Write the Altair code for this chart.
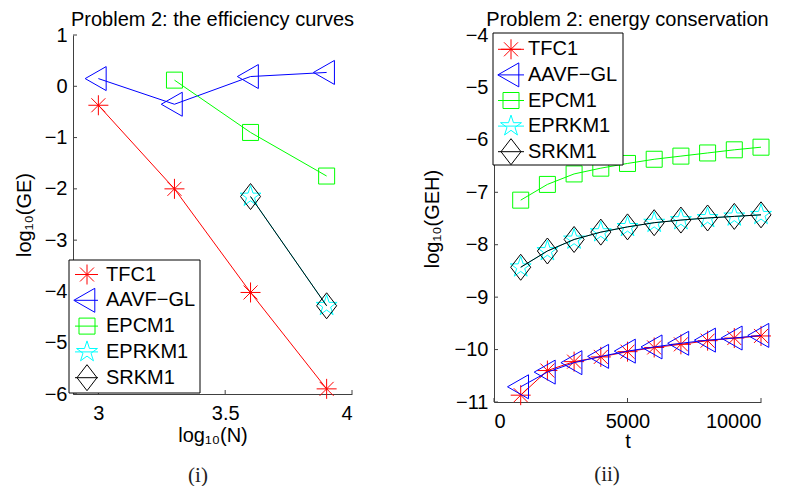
import altair as alt
import pandas as pd

# ---------------- data ----------------
names = ["TFC1", "AAVF-GL", "EPCM1", "EPRKM1", "SRKM1"]
legend_labels = ["TFC1", "AAVF\u2212GL", "EPCM1", "EPRKM1", "SRKM1"]
colors = ["#ff0000", "#0000ff", "#00ff00", "#00ffff", "#000000"]

# panel (i): efficiency curves
tfc1_x = [3.0, 3.3, 3.6, 3.9]
tfc1_ge = [-0.37, -2.0, -4.02, -5.9]
aavf_x = [3.0, 3.3, 3.6, 3.9]
aavf_ge = [0.15, -0.35, 0.19, 0.27]
epcm1_x = [3.3, 3.6, 3.9]
epcm1_ge = [0.12, -0.9, -1.75]
eprkm1_x = [3.6, 3.9]
eprkm1_ge = [-2.15, -4.28]
srkm1_x = [3.6, 3.9]
srkm1_ge = [-2.15, -4.28]

# panel (ii): energy conservation
t = [1000, 2000, 3000, 4000, 5000, 6000, 7000, 8000, 9000, 10000]
tfc1_geh = [-10.87, -10.40, -10.23, -10.14, -10.04, -9.96, -9.90, -9.83, -9.78, -9.74]
aavf_geh = [-10.71, -10.43, -10.25, -10.13, -10.03, -9.95, -9.88, -9.82, -9.78, -9.73]
epcm1_geh = [-7.15, -6.85, -6.65, -6.54, -6.45, -6.37, -6.31, -6.25, -6.19, -6.14]
eprkm1_geh = [-8.43, -8.12, -7.90, -7.76, -7.66, -7.58, -7.53, -7.49, -7.46, -7.43]
srkm1_geh = [-8.43, -8.12, -7.90, -7.76, -7.66, -7.58, -7.53, -7.49, -7.46, -7.43]

left_xticks = [3, 3.5, 4]
left_yticks = [-6, -5, -4, -3, -2, -1, 0, 1]
right_xticks = [0, 5000, 10000]
right_yticks = [-11, -10, -9, -8, -7, -6, -5, -4]

# ---------------- styling ----------------
FONT = "Liberation Sans"
FS = 20
ASTERISK = "M-1,0L1,0M0,-1L0,1M-0.7,-0.7L0.7,0.7M-0.7,0.7L0.7,-0.7"
TRI_LEFT = "M-1.1,0L0.65,-1L0.65,1Z"
DIAMOND = "M0,-1.3L1,0L0,1.3L-1,0Z"
STAR = ("M0,-1L0.225,-0.309L0.951,-0.309L0.363,0.118L0.588,0.809L0,0.382"
        "L-0.588,0.809L-0.363,0.118L-0.951,-0.309L-0.225,-0.309Z")
shapes = [ASTERISK, TRI_LEFT, "square", STAR, DIAMOND]
sizes = [400, 576, 256, 484, 400]


def series_layers(xs_list, ys_list, xscale, yscale, xaxis, yaxis):
    layers = []
    for i, (xs, ys) in enumerate(zip(xs_list, ys_list)):
        df = pd.DataFrame({"x": xs, "y": ys})
        enc = dict(
            x=alt.X("x:Q", scale=xscale, axis=xaxis),
            y=alt.Y("y:Q", scale=yscale, axis=yaxis),
        )
        line = alt.Chart(df).mark_line(color=colors[i], strokeWidth=1).encode(**enc)
        pts = alt.Chart(df).mark_point(
            shape=shapes[i], size=sizes[i], filled=False, color=colors[i],
            strokeWidth=1, opacity=1
        ).encode(**enc)
        layers += [line, pts]
    return layers


def tick_layers(xticks, yticks, xscale, yscale, xaxis, yaxis, h):
    xt = alt.Chart(pd.DataFrame({"x": xticks})).mark_rule(color="#404040", strokeWidth=1).encode(
        x=alt.X("x:Q", scale=xscale, axis=xaxis), y=alt.value(h), y2=alt.value(h - 4))
    yt = alt.Chart(pd.DataFrame({"y": yticks})).mark_rule(color="#404040", strokeWidth=1).encode(
        y=alt.Y("y:Q", scale=yscale, axis=yaxis), x=alt.value(0), x2=alt.value(4))
    return [xt, yt]


def legend_layers(bx, by, bw, bh, row0, rowstep, lx1, lx2, sx, tx):
    one = pd.DataFrame({"k": [0]})
    layers = [alt.Chart(one).mark_rect(fill="white", stroke="black", strokeWidth=1).encode(
        x=alt.value(bx), x2=alt.value(bx + bw), y=alt.value(by), y2=alt.value(by + bh))]
    for i, lab in enumerate(legend_labels):
        yy = row0 + i * rowstep
        d = pd.DataFrame({"label": [lab]})
        layers.append(alt.Chart(d).mark_rule(color=colors[i], strokeWidth=1).encode(
            x=alt.value(lx1), x2=alt.value(lx2), y=alt.value(yy)))
        layers.append(alt.Chart(d).mark_point(
            shape=shapes[i], size=sizes[i], filled=False, color=colors[i],
            strokeWidth=1, opacity=1).encode(x=alt.value(sx), y=alt.value(yy)))
        layers.append(alt.Chart(d).mark_text(
            align="left", baseline="middle", font=FONT, fontSize=FS, color="black").encode(
            x=alt.value(tx), y=alt.value(yy), text="label:N"))
    return layers


def caption(text, x, y):
    return alt.Chart(pd.DataFrame({"c": [text]})).mark_text(
        font="Liberation Serif", fontSize=21, color="#222222", baseline="middle").encode(
        x=alt.value(x), y=alt.value(y), text="c:N")


# ---------------- left panel ----------------
LW, LH = 279, 359
lxs = alt.Scale(domain=[2.9, 4], nice=False, zero=False)
lys = alt.Scale(domain=[-6, 1], nice=False, zero=False)
lxaxis = alt.Axis(title="log\u2081\u2080(N)", values=left_xticks, format="~g", titlePadding=2)
lyaxis = alt.Axis(title="log\u2081\u2080(GE)", values=left_yticks, format="d", titlePadding=10)

left_layers = (
    tick_layers(left_xticks, left_yticks, lxs, lys, lxaxis, lyaxis, LH)
    + series_layers([tfc1_x, aavf_x, epcm1_x, eprkm1_x, srkm1_x],
                    [tfc1_ge, aavf_ge, epcm1_ge, eprkm1_ge, srkm1_ge],
                    lxs, lys, lxaxis, lyaxis)
    + legend_layers(-4, 225, 131, 133, 239.5, 25.8, 2, 25, 14, 33)
    + [caption("(i)", 125, 441)]
)
left = alt.layer(*left_layers).properties(
    width=LW, height=LH,
    title=alt.TitleParams("Problem 2: the efficiency curves", font=FONT, fontSize=FS,
                          fontWeight="normal", color="black", offset=-5, anchor="middle"),
)

# ---------------- right panel ----------------
RW, RH = 267, 367
rxs = alt.Scale(domain=[0, 10000], nice=False, zero=False)
rys = alt.Scale(domain=[-11, -4], nice=False, zero=False)
rxaxis = alt.Axis(title="t", values=right_xticks, format="d", titlePadding=0)
ryaxis = alt.Axis(title="log\u2081\u2080(GEH)", values=right_yticks, format="d", titlePadding=12)

right_layers = (
    tick_layers(right_xticks, right_yticks, rxs, rys, rxaxis, ryaxis, RH)
    + series_layers([t, t, t, t, t],
                    [tfc1_geh, aavf_geh, epcm1_geh, eprkm1_geh, srkm1_geh],
                    rxs, rys, rxaxis, ryaxis)
    + legend_layers(-1, -2, 130, 132, 14.3, 25.6, 4, 30, 17, 34)
    + [caption("(ii)", 113, 440)]
)
right = alt.layer(*right_layers).properties(
    width=RW, height=RH,
    title=alt.TitleParams("Problem 2: energy conservation", font=FONT, fontSize=FS,
                          fontWeight="normal", color="black", offset=-5, anchor="middle"),
)

chart = (
    alt.hconcat(left, right, spacing=67)
    .properties(padding={"left": 6, "top": 2, "right": 0, "bottom": 0}, background="white")
    .configure_view(stroke=None)
    .configure_axis(
        grid=False, ticks=False, domainColor="#404040", domainWidth=1,
        labelFont=FONT, labelFontSize=FS, labelColor="black", labelPadding=6,
        titleFont=FONT, titleFontSize=FS, titleFontWeight="normal", titleColor="black",
    )
    .configure_axisX(labelPadding=9)
)

chart.save("out.html", embed_options={"renderer": "svg", "actions": False})
